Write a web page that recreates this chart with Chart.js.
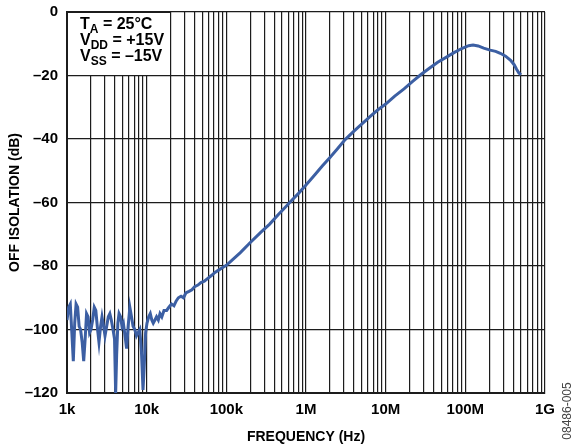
<!DOCTYPE html>
<html>
<head>
<meta charset="UTF-8">
<title>Off Isolation vs Frequency</title>
<script src="https://cdn.jsdelivr.net/npm/chart.js"></script>
<style>
  html, body { margin: 0; padding: 0; background: #fff; }
  #wrap { width: 580px; height: 448px; }
</style>
</head>
<body>
<div id="wrap"><canvas id="c" width="580" height="448"></canvas></div>
<script>
// frequency (Hz) and off isolation (dB)
const freqHz = [
  1000, 1050, 1100, 1150, 1200, 1250, 1300, 1360, 1420, 1480,
  1550, 1620, 1690, 1760, 1840, 1920, 2000, 2100, 2200, 2300,
  2420, 2520, 2640, 2750, 2880, 3000, 3150, 3300, 3450, 3600,
  3780, 3950, 4080, 4200, 4350, 4500, 4700, 4900, 5100, 5350,
  5600, 5850, 6150, 6450, 6750, 7100, 7450, 7800, 8200, 8600,
  9000, 9300, 9700, 10100, 10600, 11100, 11600, 12100, 12700, 13300,
  14000, 14700, 15500, 16500, 17800, 19000, 20500, 22000, 23500, 25000,
  27000, 29000, 31000, 34000, 37000, 40000, 44000, 48000, 53000, 58000,
  65000, 72000, 80000, 90000, 100000, 120000, 150000, 200000, 270000, 350000,
  450000, 550000, 650000, 800000, 1e6, 1.3e6, 1.6e6, 2e6, 2.5e6, 3.1e6,
  4e6, 5e6, 6.3e6, 8e6, 1e7, 1.3e7, 1.7e7, 2.2e7, 2.8e7, 3.5e7,
  4.5e7, 5.8e7, 7.2e7, 9e7, 1.1e8, 1.25e8, 1.45e8, 1.7e8, 2.05e8, 2.4e8,
  2.75e8, 3.2e8, 3.7e8, 4.1e8, 4.4e8, 4.7e8, 5e8
];
const isolationDb = [
  -97, -93, -92, -101, -110, -98, -92, -93, -99, -100,
  -104, -110, -103, -95, -96, -101, -100, -97, -93, -94,
  -100, -104, -99, -96, -99, -102, -99, -96, -95, -97,
  -100, -103, -120, -108, -98, -95, -96, -99, -98, -102,
  -106, -99, -93, -96, -99, -100, -102, -101, -100, -107,
  -119, -112, -101, -98, -96, -95, -97, -98, -97, -96,
  -97, -95, -96, -94, -94, -93, -92, -92.5, -91, -90,
  -89.5, -90, -88.5, -88, -87.5, -86.5, -86, -85.2, -84.8, -84,
  -83, -82, -81.3, -80.5, -79.8, -78, -75.8, -72.6, -69.4, -66.8,
  -63.8, -61.5, -59.5, -57.2, -54.5, -51.2, -48.5, -45.8, -43, -40.2,
  -37.5, -35.3, -33, -30.8, -29, -26.5, -24.2, -21.8, -19.6, -17.8,
  -15.8, -14.2, -12.8, -11.5, -10.6, -10.4, -10.7, -11.4, -12, -12.4,
  -13, -13.9, -15.2, -16.6, -18, -19.2, -19.8
];

const decadeTicks = [1e3, 1e4, 1e5, 1e6, 1e7, 1e8, 1e9];
const decadeLabels = ['1k', '10k', '100k', '1M', '10M', '100M', '1G'];
const minorSteps = [2, 3, 4, 5, 6, 7, 8, 9];

const FONT = '"Liberation Sans", Arial, Helvetica, sans-serif';
const GRID = '#1c1c1c';

// conditions box + axis titles drawn on the canvas
const notes = {
  id: 'notes',
  beforeDatasetsDraw(chart) {
    const c = chart.ctx, a = chart.chartArea;
    c.save();
    c.fillStyle = '#fff';
    c.fillRect(a.left, a.top - 1, 102, 64);
    // put the frame back over the blanked corner
    c.strokeStyle = GRID;
    c.lineWidth = 2;
    c.beginPath();
    c.moveTo(a.left, a.top + 64);
    c.lineTo(a.left, a.top);
    c.lineTo(a.left + 103, a.top);
    c.stroke();
    c.fillStyle = '#000';
    c.textBaseline = 'alphabetic';
    const lines = [
      [['T'], ['A', 1], [' = 25°C']],
      [['V'], ['DD', 1], [' = +15V']],
      [['V'], ['SS', 1], [' = –15V']]
    ];
    lines.forEach((segs, i) => {
      let x = a.left + 13;
      const y = a.top + 17 + i * 16;
      segs.forEach(s => {
        c.font = 'bold ' + (s[1] ? 12 : 16) + 'px ' + FONT;
        c.fillText(s[0], x, s[1] ? y + 4 : y);
        x += c.measureText(s[0]).width;
      });
    });
    c.restore();
  },
  afterDraw(chart) {
    const c = chart.ctx, a = chart.chartArea;
    c.save();
    c.fillStyle = '#000';
    c.textAlign = 'center';
    c.textBaseline = 'middle';
    c.font = 'bold 14px ' + FONT;
    c.fillText('FREQUENCY (Hz)', (a.left + a.right) / 2, 437);
    c.save();
    c.translate(15, (a.top + a.bottom) / 2);
    c.rotate(-Math.PI / 2);
    c.fillText('OFF ISOLATION (dB)', 0, 0);
    c.restore();
    c.fillStyle = '#444';
    c.font = '12px ' + FONT;
    c.translate(568, 411);
    c.rotate(-Math.PI / 2);
    c.fillText('08486-005', 0, 0);
    c.restore();
  }
};

new Chart(document.getElementById('c'), {
  type: 'scatter',
  data: {
    datasets: [{
      data: freqHz.map((f, i) => ({ x: f, y: isolationDb[i] })),
      showLine: true,
      borderColor: '#3c5fa3',
      borderWidth: 3,
      pointRadius: 0,
      tension: 0
    }]
  },
  options: {
    responsive: false,
    animation: false,
    layout: { padding: { top: 12, right: 35, left: 0, bottom: 0 } },
    plugins: { legend: { display: false }, tooltip: { enabled: false } },
    scales: {
      x: {
        type: 'logarithmic',
        min: 1e3,
        max: 1e9,
        afterBuildTicks(scale) {
          const t = [];
          decadeTicks.forEach((d, i) => {
            t.push({ value: d });
            if (i < decadeTicks.length - 1) minorSteps.forEach(m => t.push({ value: d * m }));
          });
          scale.ticks = t;
        },
        afterFit(scale) {
          scale.height = 55;
          scale.paddingLeft = 0;
          scale.paddingRight = 0;
        },
        ticks: {
          autoSkip: false,
          maxRotation: 0,
          padding: 8,
          color: '#000',
          font: { family: FONT, size: 15, weight: 'bold' },
          callback(v) {
            const i = decadeTicks.indexOf(v);
            return i >= 0 ? decadeLabels[i] : '';
          }
        },
        grid: { color: GRID, lineWidth: 1.2, drawTicks: false },
        border: { display: true, color: GRID, width: 2 }
      },
      y: {
        min: -120,
        max: 0,
        afterFit(scale) {
          scale.width = 67;
          scale.paddingTop = 0;
          scale.paddingBottom = 0;
        },
        ticks: {
          stepSize: 20,
          padding: 9,
          color: '#000',
          font: { family: FONT, size: 15, weight: 'bold' },
          callback: v => (v === 0 ? '0' : '–' + Math.abs(v))
        },
        grid: { color: GRID, lineWidth: 1.2, drawTicks: false },
        border: { display: true, color: GRID, width: 2 }
      }
    }
  },
  plugins: [notes]
});
</script>
</body>
</html>
